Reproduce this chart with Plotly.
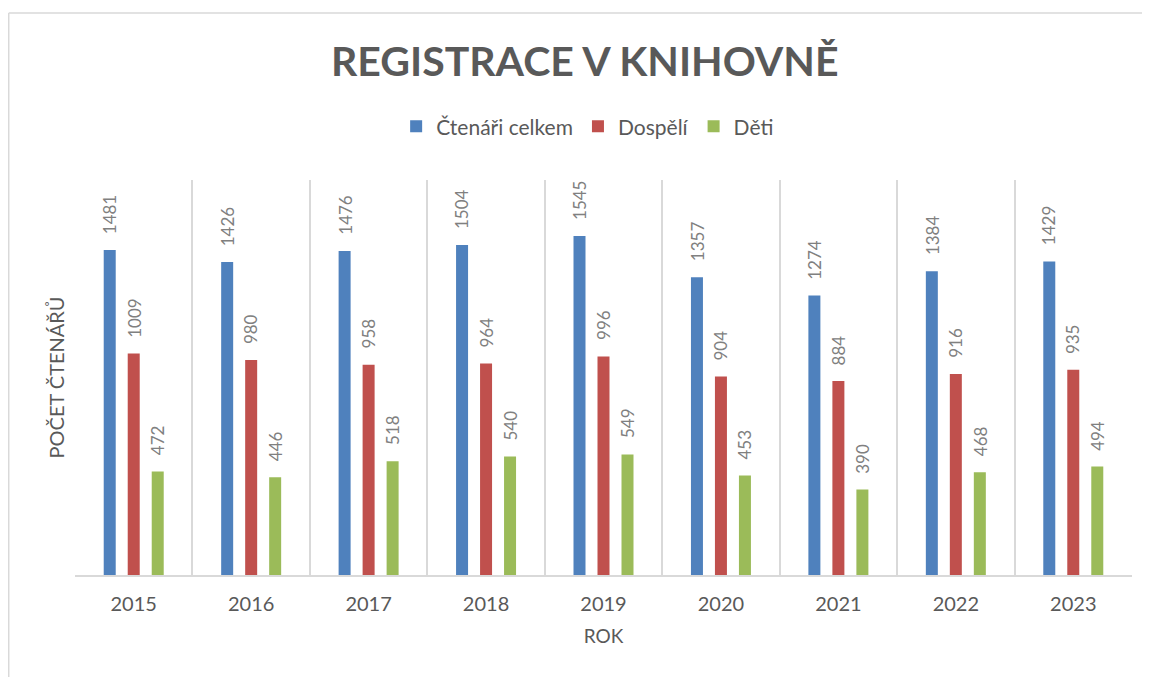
# Registrace v knihovně – sloupcový graf podle let
import plotly.graph_objects as go

roky = ['2015', '2016', '2017', '2018', '2019', '2020', '2021', '2022', '2023']
ctenari_celkem = [1481, 1426, 1476, 1504, 1545, 1357, 1274, 1384, 1429]
dospeli = [1009, 980, 958, 964, 996, 904, 884, 916, 935]
deti = [472, 446, 518, 540, 549, 453, 390, 468, 494]

FONT = "Lato, 'Open Sans', sans-serif"
GRID = '#d9d9d9'
TXT = '#595959'
LBL = '#808080'

series = [
    ('Čtenáři celkem', ctenari_celkem, '#4f81bd'),
    ('Dospělí', dospeli, '#c0504d'),
    ('Děti', deti, '#9bbb59'),
]

fig = go.Figure()
for i, (name, vals, color) in enumerate(series):
    fig.add_trace(go.Bar(
        x=roky, y=vals, name=name,
        marker=dict(color=color, line=dict(width=0)),
    ))
    # popisky hodnot nad sloupci (otočené, s odstupem jako v Excelu)
    # x jako index kategorie – řetězec '2015' by se bral jako číslo
    for k, v in enumerate(vals):
        fig.add_annotation(
            x=k, y=v, xref='x', yref='y', text=str(v),
            showarrow=False, textangle=-90,
            xanchor='center', yanchor='bottom',
            xshift=(i - 1) * 24, yshift=14,
            font=dict(family=FONT, size=17, color=LBL),
        )

# rámeček grafu (levá a horní hrana)
fig.add_shape(type='line', xref='paper', yref='paper',
              x0=-0.0627, x1=-0.0627, y0=-0.3, y1=1.4228,
              line=dict(color=GRID, width=1.5))
fig.add_shape(type='line', xref='paper', yref='paper',
              x0=-0.0627, x1=1.03, y0=1.4228, y1=1.4228,
              line=dict(color=GRID, width=1.5))

fig.update_layout(
    width=1142, height=669,
    paper_bgcolor='white', plot_bgcolor='white',
    font=dict(family=FONT, color=TXT),
    margin=dict(l=67, r=18, t=172, b=102),
    barmode='group', bargap=0.387, bargroupgap=0.5,
    title=dict(
        text='<b>REGISTRACE V KNIHOVNĚ</b>',
        x=0.505, xanchor='center', y=0.92, yanchor='middle',
        font=dict(family=FONT, size=41, color=TXT),
    ),
    legend=dict(
        orientation='h', x=0.485, xanchor='center', y=1.135, yanchor='middle',
        font=dict(family=FONT, size=21, color=TXT),
        itemwidth=30, traceorder='normal',
    ),
    showlegend=True,
    xaxis=dict(
        type='category', tickson='boundaries',
        categoryorder='array', categoryarray=roky,
        range=[-0.5, len(roky) - 0.5],
        showgrid=True, gridcolor=GRID, gridwidth=1.5,
        showline=True, linecolor=GRID, linewidth=1.5,
        ticks='', ticklabelstandoff=10,
        tickfont=dict(family=FONT, size=20, color=TXT),
        title=dict(text='ROK', font=dict(family=FONT, size=19, color=TXT), standoff=16),
    ),
    yaxis=dict(
        range=[0, 1800], showgrid=False, zeroline=False,
        showticklabels=False, ticks='',
        title=dict(text='POČET ČTENÁŘŮ', font=dict(family=FONT, size=20, color=TXT), standoff=4),
    ),
)

fig.write_html("out.html")
